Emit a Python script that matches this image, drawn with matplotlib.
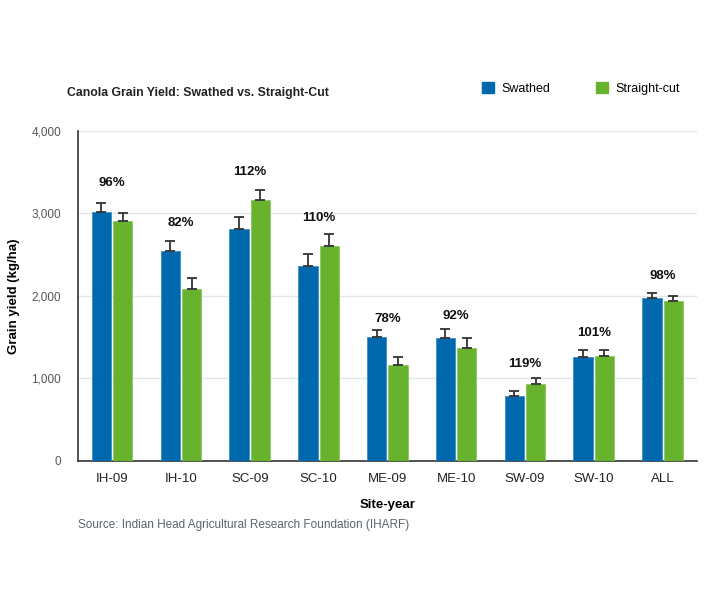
import matplotlib
matplotlib.use('Agg')
import matplotlib.pyplot as plt
import matplotlib.patches as mpatches
import numpy as np

plt.rcParams['font.family'] = ['Liberation Sans', 'DejaVu Sans']

# data
sites = ['IH-09', 'IH-10', 'SC-09', 'SC-10', 'ME-09', 'ME-10', 'SW-09', 'SW-10', 'ALL']
swathed = [3020, 2545, 2810, 2365, 1500, 1490, 790, 1260, 1975]
swathed_err = [105, 120, 145, 145, 85, 110, 60, 85, 60]
straight = [2910, 2085, 3160, 2605, 1165, 1370, 935, 1270, 1940]
straight_err = [100, 130, 120, 145, 100, 120, 70, 75, 60]
ratio_labels = ['96%', '82%', '112%', '110%', '78%', '92%', '119%', '101%', '98%']
# height (kg/ha) where each ratio label sits
ratio_y = [3370, 2890, 3500, 2940, 1720, 1760, 1170, 1555, 2245]

blue = '#0068ac'
green = '#67b32e'

fig = plt.figure(figsize=(7.2, 6), dpi=100)
ax = fig.add_axes([0.108, 0.2317, 0.86, 0.55])

x = np.arange(len(sites))
w = 0.28
off = 0.155
ax.bar(x - off, swathed, w, color=blue, edgecolor='#3d8ec4', linewidth=0.6, zorder=3)
ax.bar(x + off, straight, w, color=green, edgecolor='#8cc863', linewidth=0.6, zorder=3)
ax.errorbar(x - off, swathed, yerr=[np.zeros(len(x)), swathed_err], fmt='none',
            ecolor='#333333', elinewidth=1.3, capsize=3.3, capthick=1.3, zorder=4)
ax.errorbar(x + off, straight, yerr=[np.zeros(len(x)), straight_err], fmt='none',
            ecolor='#333333', elinewidth=1.3, capsize=3.3, capthick=1.3, zorder=4)

# ratio labels above each pair
for i, lab in enumerate(ratio_labels):
    ax.text(x[i], ratio_y[i], lab, ha='center', va='center', fontsize=9.5,
            fontweight='bold', color='#111111')

ax.set_xlim(-0.5, len(sites) - 0.5)
ax.set_ylim(0, 4000)
ax.set_yticks([0, 1000, 2000, 3000, 4000])
ax.set_yticklabels(['0', '1,000', '2,000', '3,000', '4,000'])
ax.set_xticks(x)
ax.set_xticklabels(sites)
ax.tick_params(axis='y', length=0, pad=12, labelsize=8.5, colors='#555555')
ax.tick_params(axis='x', length=0, pad=9, labelsize=9.5, colors='#222222')
ax.yaxis.grid(True, color='#e2e6ea', linewidth=1, zorder=0)
for s in ['top', 'right']:
    ax.spines[s].set_visible(False)
for s in ['left', 'bottom']:
    ax.spines[s].set_color('#333333')
    ax.spines[s].set_linewidth(1.2)

ax.set_ylabel('Grain yield (kg/ha)', fontsize=9.5, fontweight='bold', labelpad=8)
ax.set_xlabel('Site-year', fontsize=9.5, fontweight='bold', labelpad=10)

fig.text(0.093, 0.845, 'Canola Grain Yield: Swathed vs. Straight-Cut', fontsize=8.8,
         fontweight='bold', color='#222222', va='center')
fig.text(0.108, 0.125, 'Source: Indian Head Agricultural Research Foundation (IHARF)',
         fontsize=8.5, color='#5a6470', va='center')

handles = [mpatches.Patch(color=blue, label='Swathed'),
           mpatches.Patch(color=green, label='Straight-cut')]
fig.legend(handles=handles, loc='center', bbox_to_anchor=(0.807, 0.853), ncol=2,
           frameon=False, fontsize=9, handlelength=1.0, handleheight=1.0,
           columnspacing=3.6, handletextpad=0.6)

fig.savefig('out.png', dpi=100)
